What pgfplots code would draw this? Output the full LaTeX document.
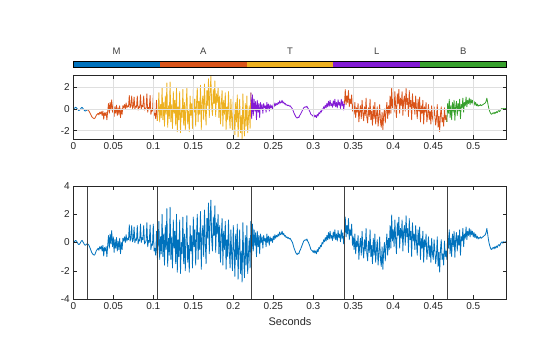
\documentclass[border=0pt]{standalone}
\usepackage{pgfplots}
\pgfplotsset{compat=1.18}
\usepackage{pgfplotstable}
\usepackage{fontspec}
\setmainfont{Liberation Sans}
\definecolor{mblue}{RGB}{0,114,189}
\definecolor{morange}{RGB}{217,83,25}
\definecolor{myellow}{RGB}{237,177,32}
\definecolor{mpurple}{RGB}{130,27,212}
\definecolor{mgreen}{RGB}{55,160,45}
\definecolor{axgray}{RGB}{38,38,38}
\pgfplotstableread[row sep=\\]{y\\
0.00\\ 0.05\\ 0.10\\ 0.15\\ 0.10\\ 0.00\\ -0.10\\ -0.15\\ -0.10\\ 0.00\\
0.10\\ 0.15\\ 0.05\\ -0.05\\ -0.15\\ -0.20\\ -0.15\\ -0.10\\ -0.10\\ -0.15\\
-0.25\\ -0.40\\ -0.55\\ -0.70\\ -0.80\\ -0.85\\ -0.90\\ -0.85\\ -0.70\\ -0.55\\
-0.50\\ -0.40\\ -0.55\\ -0.30\\ -0.45\\ -0.25\\ -0.60\\ -0.20\\ -0.95\\ -0.35\\
-0.60\\ -0.30\\ -1.00\\ -0.20\\ 0.50\\ -0.40\\ 0.60\\ -0.10\\ 0.85\\ -0.30\\
0.40\\ -0.70\\ 0.20\\ -0.40\\ 0.35\\ -0.60\\ 0.10\\ -0.50\\ 0.30\\ -0.80\\
0.00\\ -0.50\\ 0.30\\ 0.10\\ 0.40\\ 0.00\\ 0.55\\ 0.10\\ 0.30\\ 0.20\\
1.25\\ 0.10\\ 0.30\\ 1.20\\ 0.05\\ 0.20\\ 1.10\\ 0.00\\ 0.25\\ 0.15\\
1.20\\ -0.10\\ 0.20\\ 0.10\\ 1.30\\ 0.00\\ 0.35\\ 0.20\\ 1.20\\ -0.10\\
0.00\\ 0.10\\ 1.40\\ -0.30\\ 0.15\\ 0.00\\ 1.25\\ -0.50\\ -0.10\\ -0.20\\
1.30\\ -0.60\\ -0.40\\ -0.90\\ 0.80\\ -1.10\\ -0.30\\ 1.50\\ -1.20\\ 0.40\\
-0.80\\ 2.00\\ -1.00\\ 0.60\\ -1.60\\ 1.20\\ -0.50\\ 2.40\\ -1.70\\ 0.30\\
-0.90\\ 2.50\\ -1.20\\ 0.40\\ -1.80\\ 1.60\\ -0.40\\ 0.80\\ -1.50\\ 2.00\\
-2.10\\ 0.20\\ -1.00\\ 1.60\\ -2.20\\ 0.00\\ -0.80\\ 1.80\\ -1.50\\ 0.60\\
-2.00\\ 0.30\\ 1.90\\ -1.40\\ -0.20\\ -2.10\\ 1.20\\ -0.60\\ 0.50\\ -1.80\\
1.80\\ -0.30\\ 0.90\\ -1.60\\ 0.40\\ 2.00\\ -1.20\\ 0.70\\ -0.50\\ 2.20\\
-1.90\\ 0.60\\ 1.20\\ -1.00\\ 2.30\\ 0.00\\ -1.50\\ 1.70\\ 0.30\\ 2.80\\
-0.80\\ 1.50\\ 3.00\\ 0.20\\ -0.60\\ 1.80\\ 0.50\\ 2.60\\ -0.70\\ 1.40\\
0.60\\ 2.00\\ -0.80\\ 1.20\\ -1.40\\ 0.40\\ 1.70\\ -1.60\\ 0.80\\ -0.50\\
1.50\\ -1.90\\ 0.20\\ -1.00\\ 1.60\\ -0.60\\ -1.80\\ 0.90\\ -0.90\\ -2.00\\
1.20\\ -0.50\\ -2.40\\ 0.60\\ -1.20\\ 1.30\\ -2.60\\ -0.40\\ 0.90\\ -2.20\\
-0.60\\ -2.80\\ 1.40\\ -1.00\\ -2.50\\ 0.50\\ -1.60\\ 1.20\\ -2.20\\ -0.80\\
0.30\\ -1.80\\ 1.50\\ -0.90\\ 1.30\\ -0.60\\ 0.90\\ -0.20\\ 0.70\\ -1.00\\
0.80\\ -0.30\\ 0.50\\ -0.80\\ 0.60\\ 0.00\\ 0.40\\ -0.40\\ 0.50\\ 0.10\\
0.30\\ -0.30\\ 0.60\\ 0.00\\ 0.45\\ -0.20\\ 0.40\\ 0.10\\ 0.30\\ 0.00\\
0.45\\ 0.20\\ 0.55\\ 0.30\\ 0.50\\ 0.40\\ 0.60\\ 0.45\\ 0.75\\ 0.55\\
0.60\\ 0.80\\ 0.55\\ 0.65\\ 0.45\\ 0.50\\ 0.35\\ 0.40\\ 0.30\\ 0.35\\
0.25\\ 0.30\\ 0.20\\ 0.10\\ 0.00\\ -0.20\\ -0.40\\ -0.55\\ -0.70\\ -0.80\\
-0.85\\ -0.75\\ -0.80\\ -0.60\\ -0.50\\ -0.35\\ -0.20\\ -0.05\\ 0.10\\ 0.15\\
0.20\\ 0.15\\ 0.25\\ 0.10\\ 0.00\\ -0.15\\ -0.30\\ -0.50\\ -0.55\\ -0.60\\
-0.70\\ -0.55\\ -0.75\\ -0.60\\ -0.80\\ -0.50\\ -0.65\\ -0.35\\ -0.45\\ -0.20\\
-0.30\\ 0.00\\ -0.10\\ 0.20\\ 0.05\\ 0.35\\ 0.10\\ 0.50\\ 0.20\\ 0.70\\
0.25\\ 0.80\\ 0.30\\ 0.50\\ 0.15\\ 0.75\\ 0.30\\ 0.90\\ 0.20\\ 0.60\\
0.10\\ 0.85\\ 0.35\\ 0.60\\ 0.05\\ 0.90\\ 0.30\\ 0.70\\ -0.10\\ 0.50\\
1.80\\ 0.40\\ 1.20\\ 0.60\\ 1.70\\ 0.20\\ 0.90\\ 0.50\\ 1.30\\ -0.20\\
0.40\\ -0.50\\ 0.60\\ -0.80\\ 0.10\\ -0.30\\ 0.50\\ -1.20\\ -0.20\\ 0.30\\
-0.90\\ 0.80\\ -0.40\\ -1.10\\ 0.20\\ -0.60\\ 1.00\\ -0.80\\ -1.30\\ 0.10\\
-0.70\\ 0.90\\ -1.00\\ -0.20\\ -1.50\\ 0.30\\ -0.90\\ 0.60\\ -1.40\\ -0.50\\
0.20\\ -1.60\\ -0.80\\ 0.40\\ -1.20\\ -1.70\\ -0.30\\ -1.90\\ -0.60\\ 0.00\\
-1.30\\ -0.20\\ 0.60\\ -0.90\\ 0.30\\ -0.50\\ 1.20\\ -0.40\\ 1.95\\ 0.10\\
0.90\\ -0.30\\ 1.60\\ 0.20\\ -0.80\\ 1.40\\ 0.50\\ 1.80\\ -0.40\\ 1.00\\
0.30\\ 1.60\\ -0.60\\ 0.80\\ 1.20\\ -0.20\\ 1.90\\ 0.40\\ 1.00\\ -0.70\\
1.70\\ 0.20\\ 0.80\\ -1.00\\ 1.40\\ 0.10\\ 0.60\\ -0.50\\ 1.20\\ 0.00\\
-0.90\\ 0.90\\ -0.20\\ 1.10\\ -1.20\\ 0.30\\ -0.40\\ 0.80\\ -1.40\\ 0.20\\
-0.30\\ 0.60\\ -1.20\\ -0.50\\ 0.40\\ -1.00\\ -0.20\\ -1.40\\ 0.30\\ -0.80\\
-1.20\\ 0.20\\ -0.60\\ -1.50\\ -0.90\\ 0.40\\ -1.70\\ -0.70\\ -2.10\\ -0.50\\
0.20\\ -1.20\\ -0.80\\ -1.60\\ 0.10\\ -1.00\\ -0.60\\ -1.20\\ 0.50\\ -0.40\\
0.90\\ -0.80\\ 0.30\\ -1.00\\ 0.60\\ -0.30\\ 0.80\\ -1.05\\ 0.20\\ 0.70\\
-0.60\\ 0.50\\ -0.20\\ 0.90\\ -0.90\\ 0.40\\ 0.10\\ 1.00\\ -0.30\\ 0.60\\
0.30\\ 1.10\\ 0.20\\ 0.80\\ 0.50\\ 1.00\\ 0.40\\ 0.90\\ 0.55\\ 0.80\\
0.40\\ 0.70\\ 0.35\\ 0.60\\ 0.30\\ 0.45\\ 0.25\\ 0.35\\ 0.30\\ 0.40\\
0.30\\ 0.35\\ 0.40\\ 0.45\\ 0.50\\ 0.55\\ 0.70\\ 1.00\\ 0.60\\ 0.20\\
-0.10\\ -0.30\\ -0.45\\ -0.50\\ -0.40\\ -0.35\\ -0.45\\ -0.30\\ -0.40\\ -0.25\\
-0.35\\ -0.20\\ -0.15\\ -0.25\\ -0.10\\ 0.00\\ 0.05\\ -0.05\\ 0.05\\ 0.00\\
0.05\\ 0.00\\
}\sig
\pgfplotsset{
  mstyle/.style={
    scale only axis, width=433.4bp,
    xmin=0, xmax=0.5418,
    xtick={0,0.05,0.1,0.15,0.2,0.25,0.3,0.35,0.4,0.45,0.5},
    xticklabels={0,0.05,0.1,0.15,0.2,0.25,0.3,0.35,0.4,0.45,0.5},
    tick align=inside, tick pos=both,
    major tick length=4bp,
    axis line style={axgray, line width=0.5bp},
    tick style={axgray, line width=0.5bp},
    ticklabel style={font=\fontsize{10bp}{12bp}\selectfont, text=axgray},
    axis on top,
  },
  sig/.style={line width=0.8bp, line join=round},
}
\begin{document}
\begin{tikzpicture}
\path[use as bounding box] (0,0) rectangle (560bp,337bp);
% segment bar
\begin{axis}[at={(73.3bp,269.3bp)}, anchor=south west, scale only axis,
  width=433.4bp, height=6.7bp, xmin=0, xmax=5, ymin=0, ymax=1,
  ytick=\empty, xtick={0.5,1.5,2.5,3.5,4.5}, xticklabels={M,A,T,L,B},
  xticklabel pos=upper, major tick length=0pt,
  axis line style={black, line width=0.7bp}, axis on top,
  xticklabel style={font=\fontsize{9.5bp}{11bp}\selectfont, text=black!75, yshift=3bp}]
\addplot[draw=none, fill=mblue] coordinates {(0,0) (1,0) (1,1) (0,1)} -- cycle;
\addplot[draw=none, fill=morange] coordinates {(1,0) (2,0) (2,1) (1,1)} -- cycle;
\addplot[draw=none, fill=myellow] coordinates {(2,0) (3,0) (3,1) (2,1)} -- cycle;
\addplot[draw=none, fill=mpurple] coordinates {(3,0) (4,0) (4,1) (3,1)} -- cycle;
\addplot[draw=none, fill=mgreen] coordinates {(4,0) (5,0) (5,1) (4,1)} -- cycle;
\end{axis}
% top colored signal
\begin{axis}[mstyle, at={(73.3bp,198bp)}, anchor=south west, height=64bp,
  ymin=-2.78, ymax=3.14, ytick={-2,0,2}, yticklabels={-2,0,2},
  grid=major, major grid style={gray!25, line width=0.5bp}]
\addplot[sig, mblue, restrict x to domain=0:0.0185] table[x expr=\coordindex*0.001, y=y] {\sig};
\addplot[sig, morange, restrict x to domain=0.0175:0.1055] table[x expr=\coordindex*0.001, y=y] {\sig};
\addplot[sig, myellow, restrict x to domain=0.1045:0.2225] table[x expr=\coordindex*0.001, y=y] {\sig};
\addplot[sig, mpurple, restrict x to domain=0.2215:0.3395] table[x expr=\coordindex*0.001, y=y] {\sig};
\addplot[sig, morange, restrict x to domain=0.3385:0.4675] table[x expr=\coordindex*0.001, y=y] {\sig};
\addplot[sig, mgreen, restrict x to domain=0.4665:0.6] table[x expr=\coordindex*0.001, y=y] {\sig};
\end{axis}
% bottom signal
\begin{axis}[mstyle, at={(73.3bp,38bp)}, anchor=south west, height=113bp,
  ymin=-4, ymax=4, ytick={-4,-2,0,2,4}, yticklabels={-4,-2,0,2,4},
  xlabel={Seconds}, xlabel style={font=\fontsize{11bp}{13bp}\selectfont, text=axgray, yshift=-1bp}]
\addplot[sig, mblue] table[x expr=\coordindex*0.001, y=y] {\sig};
\addplot[black!75, line width=0.7bp] coordinates {(0.0175,-4) (0.0175,4)};
\addplot[black!75, line width=0.7bp] coordinates {(0.105,-4) (0.105,4)};
\addplot[black!75, line width=0.7bp] coordinates {(0.2225,-4) (0.2225,4)};
\addplot[black!75, line width=0.7bp] coordinates {(0.339,-4) (0.339,4)};
\addplot[black!75, line width=0.7bp] coordinates {(0.467,-4) (0.467,4)};
\end{axis}
\end{tikzpicture}
\end{document}
